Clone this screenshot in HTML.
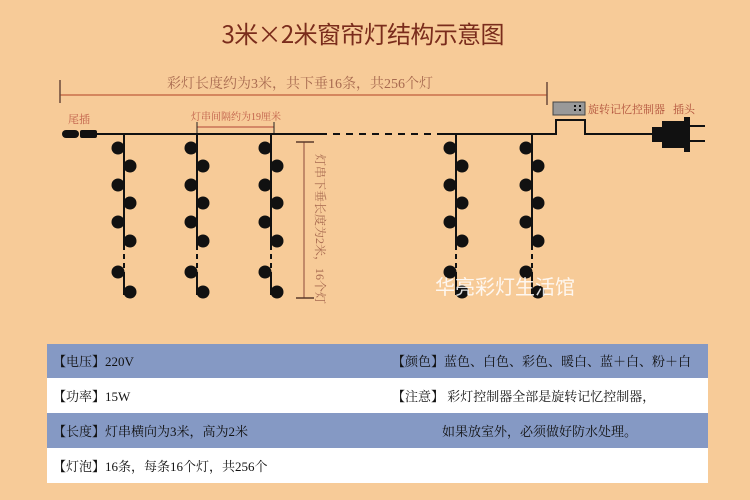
<!DOCTYPE html>
<html><head><meta charset="utf-8"><style>
html,body{margin:0;padding:0;background:#f7cb98;}
svg{display:block}
text{font-family:"Liberation Serif","Noto Serif CJK SC","Noto Sans CJK SC",serif;}
</style></head><body>
<svg width="750" height="500" viewBox="0 0 750 500" xmlns="http://www.w3.org/2000/svg">
<defs>
<g id="s">
<line x1="0" y1="134" x2="0" y2="245" stroke="#111" stroke-width="2"/>
<line x1="0" y1="245" x2="0" y2="272" stroke="#111" stroke-width="2" stroke-dasharray="5,4"/>
<line x1="0" y1="272" x2="0" y2="295" stroke="#111" stroke-width="2"/>
<g fill="#111">
<circle cx="-6" cy="148" r="6.5"/>
<circle cx="6" cy="166" r="6.5"/>
<circle cx="-6" cy="185" r="6.5"/>
<circle cx="6" cy="203" r="6.5"/>
<circle cx="-6" cy="222" r="6.5"/>
<circle cx="6" cy="241" r="6.5"/>
<circle cx="-6" cy="272" r="6.5"/>
<circle cx="6" cy="292" r="6.5"/>
</g>
</g>
</defs>
<rect width="750" height="500" fill="#f7cb98"/>
<text x="363" y="43" font-size="24" fill="#7a2c1c" text-anchor="middle" textLength="283" style="font-family:'Noto Sans CJK SC','Liberation Sans',sans-serif">3米×2米窗帘灯结构示意图</text>
<!-- top dimension -->
<line x1="60" y1="95" x2="547" y2="95" stroke="#c9704a" stroke-width="1.5"/>
<line x1="60" y1="80" x2="60" y2="103" stroke="#6a4a3a" stroke-width="1.5"/>
<line x1="547" y1="82" x2="547" y2="105" stroke="#6a4a3a" stroke-width="1.5"/>
<text x="300" y="88" font-size="14" fill="#a86a50" text-anchor="middle">彩灯长度约为3米，共下垂16条，共256个灯</text>
<!-- tail plug -->
<text x="68" y="123" font-size="11" fill="#c0604a">尾插</text>
<rect x="62" y="130" width="17" height="8" rx="4" fill="#111"/>
<rect x="80" y="130" width="17" height="8" rx="2" fill="#111"/>
<!-- interval -->
<text x="236" y="120" font-size="10" fill="#c0604a" text-anchor="middle">灯串间隔约为19厘米</text>
<line x1="197" y1="127" x2="274" y2="127" stroke="#c0604a" stroke-width="1.2"/>
<line x1="197" y1="122" x2="197" y2="134" stroke="#222" stroke-width="1"/>
<line x1="274" y1="122" x2="274" y2="134" stroke="#222" stroke-width="1"/>
<!-- main line -->
<line x1="96" y1="134" x2="320" y2="134" stroke="#111" stroke-width="2"/>
<line x1="320" y1="134" x2="440" y2="134" stroke="#111" stroke-width="2" stroke-dasharray="7,6"/>
<polyline points="440,134 556,134 556,120 585,120 585,134 652,134" fill="none" stroke="#111" stroke-width="2"/>
<rect x="553" y="102" width="32" height="13" fill="#999" stroke="#444" stroke-width="1"/>
<rect x="574" y="105" width="2" height="2" fill="#111"/><rect x="579" y="105" width="2" height="2" fill="#111"/>
<rect x="574" y="109" width="2" height="2" fill="#111"/><rect x="579" y="109" width="2" height="2" fill="#111"/>
<text x="588" y="113" font-size="11" fill="#b0503a">旋转记忆控制器</text>
<text x="673" y="113" font-size="11" fill="#b0503a">插头</text>
<!-- plug -->
<rect x="652" y="127" width="12" height="15" fill="#111"/>
<rect x="662" y="121" width="24" height="27" fill="#111"/>
<rect x="684" y="117" width="6" height="35" fill="#111"/>
<rect x="690" y="125" width="15" height="2" fill="#111"/>
<rect x="690" y="140" width="15" height="2" fill="#111"/>
<!-- strands -->
<use href="#s" x="124"/>
<use href="#s" x="197"/>
<use href="#s" x="271"/>
<use href="#s" x="456"/>
<use href="#s" x="532"/>
<!-- vertical dim -->
<line x1="304" y1="142" x2="304" y2="298" stroke="#a0604a" stroke-width="1.2"/>
<line x1="296" y1="142" x2="314" y2="142" stroke="#5a3a2a" stroke-width="1.5"/>
<line x1="296" y1="298" x2="314" y2="298" stroke="#5a3a2a" stroke-width="1.5"/>
<text x="0" y="0" font-size="12" fill="#a86a50" transform="translate(316,154) rotate(90)">灯串下垂长度为2米，16个灯</text>
<!-- watermark -->
<text x="505" y="294" font-size="20" fill="#ffffff" fill-opacity="0.85" text-anchor="middle" style="font-family:'Noto Sans CJK SC',sans-serif">华亮彩灯生活馆</text>
<!-- table -->
<rect x="47" y="344" width="661" height="34" fill="#8599c4"/>
<rect x="47" y="378" width="661" height="35" fill="#ffffff"/>
<rect x="47" y="413" width="661" height="35" fill="#8599c4"/>
<rect x="47" y="448" width="661" height="35" fill="#ffffff"/>
<g font-size="13" fill="#111">
<text x="53" y="366">【电压】220V</text>
<text x="53" y="401">【功率】15W</text>
<text x="53" y="436">【长度】灯串横向为3米，高为2米</text>
<text x="53" y="471">【灯泡】16条，每条16个灯，共256个</text>
<text x="392" y="366">【颜色】蓝色、白色、彩色、暖白、蓝＋白、粉＋白</text>
<text x="392" y="401">【注意】 彩灯控制器全部是旋转记忆控制器，</text>
<text x="442" y="436">如果放室外，必须做好防水处理。</text>
</g>
</svg>
</body></html>
